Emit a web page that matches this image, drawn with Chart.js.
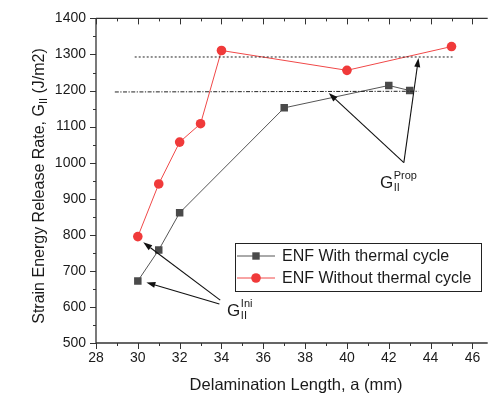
<!DOCTYPE html>
<html>
<head>
<meta charset="utf-8">
<script src="https://cdn.jsdelivr.net/npm/chart.js@4.4.1/dist/chart.umd.min.js"></script>
<style>
    html, body { margin: 0; padding: 0; background: #fff; }
    canvas { display: block; }
</style>
</head>
<body>
<canvas id="chart" width="493" height="394"></canvas>
<script>
// Data
const seriesNames = ["ENF With thermal cycle", "ENF Without thermal cycle"];
const lenWith = [30, 31, 32, 37, 42, 43];
const gWith = [672, 758, 861, 1152, 1214, 1200];
const lenWithout = [30, 31, 32, 33, 34, 40, 45];
const gWithout = [795, 941, 1057, 1108, 1311, 1256, 1322];

const xTicks = [28, 30, 32, 34, 36, 38, 40, 42, 44, 46];
const yTicks = [500, 600, 700, 800, 900, 1000, 1100, 1200, 1300, 1400];

// Reference lines and arrows (data coordinates)
const dottedLine = [[29.85, 1293], [45.05, 1293]];
const dashDotLine = [[28.9, 1196], [43.42, 1198]];
const iniArrows = [[[33.94, 619], [30.26, 779]], [[33.9, 608], [30.41, 668]]];
const propArrows = [[[42.72, 1000], [39.13, 1193]], [[42.72, 1000], [43.42, 1290]]];
const iniLabelPos = [34.27, 575];
const propLabelPos = [41.58, 931];

const FONT = "Arial, 'Liberation Sans', sans-serif";
const GRAY = "#4a4a4a";
const RED = "#f03a3a";

function toPoints(xs, ys) {
    return xs.map((x, i) => ({ x: x, y: ys[i] }));
}

function drawArrow(ctx, x1, y1, x2, y2) {
    const ang = Math.atan2(y2 - y1, x2 - x1);
    const head = 9, half = 3;
    const bx = x2 - head * Math.cos(ang);
    const by = y2 - head * Math.sin(ang);
    ctx.beginPath();
    ctx.moveTo(x1, y1);
    ctx.lineTo(bx, by);
    ctx.stroke();
    ctx.beginPath();
    ctx.moveTo(x2, y2);
    ctx.lineTo(bx + half * Math.sin(ang), by - half * Math.cos(ang));
    ctx.lineTo(bx - half * Math.sin(ang), by + half * Math.cos(ang));
    ctx.closePath();
    ctx.fill();
}

function drawG(ctx, x, y, sup) {
    ctx.textAlign = "left";
    ctx.textBaseline = "alphabetic";
    ctx.font = "17px " + FONT;
    ctx.fillText("G", x, y);
    const w = ctx.measureText("G").width;
    ctx.font = "11px " + FONT;
    ctx.fillText(sup, x + w + 0.5, y - 9);
    ctx.fillText("II", x + w + 0.5, y + 3);
}

const decorations = {
    id: "decorations",
    afterDraw(chart) {
        const ctx = chart.ctx;
        const xs = chart.scales.x;
        const ys = chart.scales.y;
        const area = chart.chartArea;
        const px = v => xs.getPixelForValue(v);
        const py = v => ys.getPixelForValue(v);

        ctx.save();

        // axes frame
        ctx.strokeStyle = "#333";
        ctx.lineWidth = 1.3;
        ctx.beginPath();
        ctx.moveTo(area.left, area.top);
        ctx.lineTo(area.left, area.bottom);
        ctx.lineTo(area.right, area.bottom);
        ctx.moveTo(area.left, area.top);
        ctx.lineTo(area.right, area.top);
        ctx.stroke();

        // ticks
        ctx.lineWidth = 1;
        ctx.beginPath();
        for (let v = xTicks[0]; v <= xs.max; v += 1) {
            const len = xTicks.includes(v) ? 6 : 3;
            const x = Math.round(px(v)) + 0.5;
            ctx.moveTo(x, area.bottom);
            ctx.lineTo(x, area.bottom + len);
            ctx.moveTo(x, area.top);
            ctx.lineTo(x, area.top + len);
        }
        for (let v = yTicks[0]; v <= ys.max; v += 50) {
            const len = yTicks.includes(v) ? 6 : 3;
            const y = Math.round(py(v)) + 0.5;
            ctx.moveTo(area.left, y);
            ctx.lineTo(area.left - len, y);
        }
        ctx.stroke();

        // dotted reference line
        ctx.strokeStyle = "#222";
        ctx.lineWidth = 1;
        ctx.setLineDash([2, 2]);
        ctx.beginPath();
        ctx.moveTo(px(dottedLine[0][0]), py(dottedLine[0][1]));
        ctx.lineTo(px(dottedLine[1][0]), py(dottedLine[1][1]));
        ctx.stroke();

        // dash-dot reference line
        ctx.setLineDash([4, 1.5, 1.2, 1.5]);
        ctx.beginPath();
        ctx.moveTo(px(dashDotLine[0][0]), py(dashDotLine[0][1]));
        ctx.lineTo(px(dashDotLine[1][0]), py(dashDotLine[1][1]));
        ctx.stroke();
        ctx.setLineDash([]);

        // arrows
        ctx.strokeStyle = "#111";
        ctx.fillStyle = "#111";
        ctx.lineWidth = 1.1;
        iniArrows.concat(propArrows).forEach(a => {
            drawArrow(ctx, px(a[0][0]), py(a[0][1]), px(a[1][0]), py(a[1][1]));
        });

        // G labels
        ctx.fillStyle = "#1a1a1a";
        drawG(ctx, px(iniLabelPos[0]), py(iniLabelPos[1]), "Ini");
        drawG(ctx, px(propLabelPos[0]), py(propLabelPos[1]), "Prop");

        // legend
        const lx = 235.5, ly = 243.5, lw = 246, lh = 48;
        ctx.fillStyle = "#fff";
        ctx.fillRect(lx, ly, lw, lh);
        ctx.strokeStyle = "#222";
        ctx.lineWidth = 1;
        ctx.strokeRect(lx, ly, lw, lh);
        chart.data.datasets.forEach((ds, i) => {
            const yy = 256 + i * 22;
            ctx.strokeStyle = ds.borderColor;
            ctx.beginPath();
            ctx.moveTo(237, yy);
            ctx.lineTo(275, yy);
            ctx.stroke();
            ctx.fillStyle = ds.backgroundColor;
            if (ds.pointStyle === "rect") {
                ctx.fillRect(256 - 3.7, yy - 3.7, 7.4, 7.4);
            } else {
                ctx.beginPath();
                ctx.arc(256, yy, 4.8, 0, Math.PI * 2);
                ctx.fill();
            }
            ctx.fillStyle = "#1a1a1a";
            ctx.font = "16px " + FONT;
            ctx.textAlign = "left";
            ctx.textBaseline = "middle";
            ctx.fillText(ds.label, 282, yy + 1);
        });

        // x axis title
        ctx.fillStyle = "#1a1a1a";
        ctx.font = "16.5px " + FONT;
        ctx.textAlign = "center";
        ctx.textBaseline = "alphabetic";
        ctx.fillText("Delamination Length, a (mm)", 296, 390);

        // y axis title with subscript
        ctx.save();
        ctx.translate(38, 186);
        ctx.rotate(-Math.PI / 2);
        ctx.textAlign = "left";
        ctx.textBaseline = "alphabetic";
        const part1 = "Strain Energy Release Rate, G";
        const part3 = " (J/m2)";
        ctx.font = "16px " + FONT;
        const w1 = ctx.measureText(part1).width;
        const w3 = ctx.measureText(part3).width;
        ctx.font = "11px " + FONT;
        const w2 = ctx.measureText("II").width;
        const total = w1 + w2 + w3;
        let x0 = -total / 2;
        ctx.font = "16px " + FONT;
        ctx.fillText(part1, x0, 6);
        ctx.font = "11px " + FONT;
        ctx.fillText("II", x0 + w1, 9);
        ctx.font = "16px " + FONT;
        ctx.fillText(part3, x0 + w1 + w2, 6);
        ctx.restore();

        ctx.restore();
    }
};

new Chart(document.getElementById("chart"), {
    type: "line",
    data: {
        datasets: [
            {
                label: seriesNames[0],
                data: toPoints(lenWith, gWith),
                borderColor: "#555",
                backgroundColor: GRAY,
                borderWidth: 1,
                pointStyle: "rect",
                pointRadius: 5.3,
                pointBorderWidth: 0,
                pointBackgroundColor: GRAY
            },
            {
                label: seriesNames[1],
                data: toPoints(lenWithout, gWithout),
                borderColor: "#f04848",
                backgroundColor: RED,
                borderWidth: 1,
                pointStyle: "circle",
                pointRadius: 4.8,
                pointBorderWidth: 0,
                pointBackgroundColor: RED
            }
        ]
    },
    options: {
        responsive: false,
        devicePixelRatio: 1,
        animation: false,
        layout: { padding: { top: 17, right: 0, left: 0, bottom: 0 } },
        plugins: {
            legend: { display: false },
            tooltip: { enabled: false }
        },
        scales: {
            x: {
                type: "linear",
                min: 28,
                max: 46.73,
                grid: { display: false, drawTicks: false },
                border: { display: false },
                ticks: {
                    padding: 7,
                    color: "#1a1a1a",
                    font: { family: FONT, size: 14 },
                    callback: v => String(v)
                },
                afterBuildTicks: scale => {
                    scale.ticks = xTicks.map(v => ({ value: v }));
                },
                afterFit: scale => { scale.height = 51; }
            },
            y: {
                min: 500,
                max: 1400,
                grid: { display: false, drawTicks: false },
                border: { display: false },
                ticks: {
                    padding: 10,
                    color: "#1a1a1a",
                    font: { family: FONT, size: 14 },
                    callback: v => String(v)
                },
                afterBuildTicks: scale => {
                    scale.ticks = yTicks.map(v => ({ value: v }));
                },
                afterFit: scale => { scale.width = 96; }
            }
        }
    },
    plugins: [decorations]
});
</script>
</body>
</html>
